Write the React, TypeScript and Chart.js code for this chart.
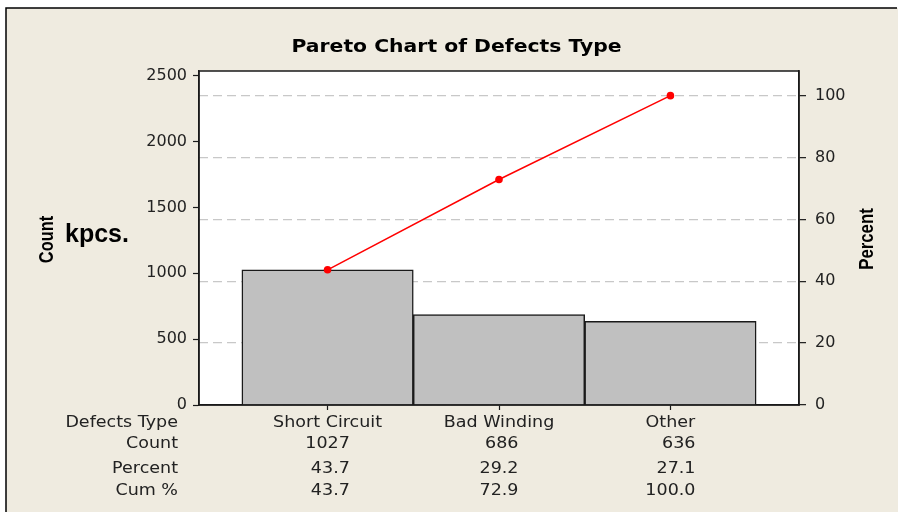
import { useEffect, useRef } from "react";
import { Chart, registerables } from "chart.js";

Chart.register(...registerables);

const categories = ["Short Circuit", "Bad Winding", "Other"];
const counts = [1027, 686, 636];
const percents = [43.7, 29.2, 27.1];
const cumPercents = [43.7, 72.9, 100.0];
const countTicks = [0, 500, 1000, 1500, 2000, 2500];
const percentTicks = [0, 20, 40, 60, 80, 100];
const countAxisMax = 2536;
const rowHeaders = ["Defects Type", "Count", "Percent", "Cum %"];
const chartTitle = "Pareto Chart of Defects Type";
const unitLabel = "kpcs.";
const leftAxisTitle = "Count";
const rightAxisTitle = "Percent";

const BEIGE = "#efebe0";
const INK = "#1a1a1a";
const TXT = "#222222";

function drawText(ctx: CanvasRenderingContext2D, text: string, x: number, y: number, font: string, align: CanvasTextAlign, sx: number, color: string) {
  ctx.save();
  ctx.font = font;
  ctx.fillStyle = color;
  ctx.textAlign = align;
  ctx.textBaseline = "alphabetic";
  ctx.translate(x, y);
  ctx.scale(sx, 1);
  ctx.fillText(text, 0, 0);
  ctx.restore();
}

function drawRotated(ctx: CanvasRenderingContext2D, text: string, x: number, y: number, font: string, sx: number, color: string) {
  ctx.save();
  ctx.font = font;
  ctx.fillStyle = color;
  ctx.textAlign = "center";
  ctx.textBaseline = "alphabetic";
  ctx.translate(x, y);
  ctx.rotate(-Math.PI / 2);
  ctx.scale(sx, 1);
  ctx.fillText(text, 0, 0);
  ctx.restore();
}

const decorPlugin = {
  id: "decor",
  beforeDraw(chart: any) {
    const ctx: CanvasRenderingContext2D = chart.ctx;
    const { width, height, chartArea } = chart;
    ctx.save();
    ctx.fillStyle = "#ffffff";
    ctx.fillRect(0, 0, width, height);
    ctx.fillStyle = BEIGE;
    ctx.fillRect(6, 8, width - 6, height - 8);
    ctx.strokeStyle = "#000000";
    ctx.lineWidth = 1.5;
    ctx.beginPath();
    ctx.moveTo(6, height);
    ctx.lineTo(6, 8);
    ctx.lineTo(width - 1, 8);
    ctx.stroke();
    ctx.fillStyle = "#ffffff";
    ctx.fillRect(chartArea.left, chartArea.top, chartArea.right - chartArea.left, chartArea.bottom - chartArea.top);
    ctx.restore();
  },
  afterDatasetsDraw(chart: any) {
    const ctx: CanvasRenderingContext2D = chart.ctx;
    const a = chart.chartArea;
    ctx.save();
    ctx.strokeStyle = INK;
    ctx.lineWidth = 1.5;
    ctx.strokeRect(a.left, a.top, a.right - a.left, a.bottom - a.top);
    ctx.restore();
  },
  afterDraw(chart: any) {
    const ctx: CanvasRenderingContext2D = chart.ctx;
    const xs = chart.scales.x;
    drawText(ctx, chartTitle, 456.5, 52, "bold 18.5px 'DejaVu Sans'", "center", 1.1, "#000000");
    drawText(ctx, unitLabel, 65, 242, "bold 25px 'Liberation Sans'", "left", 1, "#000000");
    drawRotated(ctx, leftAxisTitle, 53, 239.5, "bold 21px 'Liberation Sans'", 0.78, "#000000");
    drawRotated(ctx, rightAxisTitle, 873, 239, "bold 21px 'Liberation Sans'", 0.8, "#000000");
    const tableFont = "15.5px 'DejaVu Sans'";
    const sx = 1.13;
    const rowY = [427, 448, 473, 495];
    rowHeaders.forEach((h, i) => drawText(ctx, h, 178, rowY[i], tableFont, "right", sx, TXT));
    ctx.save();
    ctx.font = tableFont;
    categories.forEach((c, i) => {
      const cx = xs.getPixelForValue(i);
      drawText(ctx, c, cx, rowY[0], tableFont, "center", sx, TXT);
      const vals = [String(counts[i]), percents[i].toFixed(1), cumPercents[i].toFixed(1)];
      const maxW = Math.max(...vals.map((v) => ctx.measureText(v).width * sx));
      const rx = cx + maxW / 2;
      vals.forEach((v, j) => drawText(ctx, v, rx, rowY[j + 1], tableFont, "right", sx, TXT));
    });
    ctx.restore();
  },
};

export default function App() {
  const ref = useRef<HTMLCanvasElement | null>(null);

  useEffect(() => {
    if (!ref.current) return;
    const total = counts.reduce((s, v) => s + v, 0);
    const percentAxisMax = (countAxisMax / total) * 100;
    const tickFont = { family: "'DejaVu Sans'", size: 16 };

    const chart = new Chart(ref.current, {
      type: "bar",
      data: {
        datasets: [
          {
            type: "line",
            label: "Cum %",
            data: cumPercents.map((v, i) => ({ x: i, y: v })),
            xAxisID: "x",
            yAxisID: "y1",
            borderColor: "#ff0000",
            backgroundColor: "#ff0000",
            borderWidth: 1.5,
            pointRadius: 3.8,
            pointBorderWidth: 0,
            pointBackgroundColor: "#ff0000",
            tension: 0,
            order: 0,
          } as any,
          {
            type: "bar",
            label: "Count",
            data: counts.map((v, i) => ({ x: i, y: v })),
            xAxisID: "x",
            yAxisID: "y",
            backgroundColor: "#c0c0c0",
            borderColor: "#1a1a1a",
            borderWidth: 1.5,
            barPercentage: 1,
            categoryPercentage: 1,
            order: 1,
          } as any,
        ],
      },
      options: {
        responsive: false,
        animation: false,
        devicePixelRatio: 1,
        layout: { padding: { top: 71, left: 0, right: 0, bottom: 0 } },
        plugins: {
          legend: { display: false },
          tooltip: { enabled: false },
          title: { display: false },
        },
        scales: {
          x: {
            type: "linear",
            position: "bottom",
            min: -0.75,
            max: 2.75,
            offset: false,
            grid: { offset: false, drawOnChartArea: false, drawTicks: true, tickLength: 5, tickColor: INK, tickWidth: 1.2 },
            border: { color: INK, width: 1.5 },
            ticks: { display: false },
            afterBuildTicks: (s: any) => {
              s.ticks = categories.map((_, i) => ({ value: i }));
            },
            afterFit: (s: any) => {
              s.height = 107;
            },
          },
          y: {
            type: "linear",
            position: "left",
            min: 0,
            max: countAxisMax,
            grid: { drawOnChartArea: false, drawTicks: true, tickLength: 6, tickColor: INK, tickWidth: 1.2 },
            border: { color: INK, width: 1.5 },
            ticks: { font: tickFont, color: TXT, padding: 6, callback: (v: any) => String(v) },
            afterBuildTicks: (s: any) => {
              s.ticks = countTicks.map((v) => ({ value: v }));
            },
            afterFit: (s: any) => {
              s.width = 199;
            },
          },
          y1: {
            type: "linear",
            position: "right",
            min: 0,
            max: percentAxisMax,
            grid: {
              drawOnChartArea: true,
              color: "#c8c8c8",
              lineWidth: 1.3,
              drawTicks: true,
              tickLength: 7,
              tickColor: INK,
              tickWidth: 1.2,
            },
            border: { color: INK, width: 1.5, dash: [9, 5] },
            ticks: { font: tickFont, color: TXT, padding: 9, callback: (v: any) => String(v) },
            afterBuildTicks: (s: any) => {
              s.ticks = percentTicks.map((v) => ({ value: v }));
            },
            afterFit: (s: any) => {
              s.width = 99;
            },
          },
        },
      } as any,
      plugins: [decorPlugin],
    });
    return () => chart.destroy();
  }, []);

  return (
    <div style={{ position: "fixed", left: 0, top: 0, width: 898, height: 512 }}>
      <canvas ref={ref} width={898} height={512} style={{ display: "block", width: 898, height: 512 }} />
    </div>
  );
}
